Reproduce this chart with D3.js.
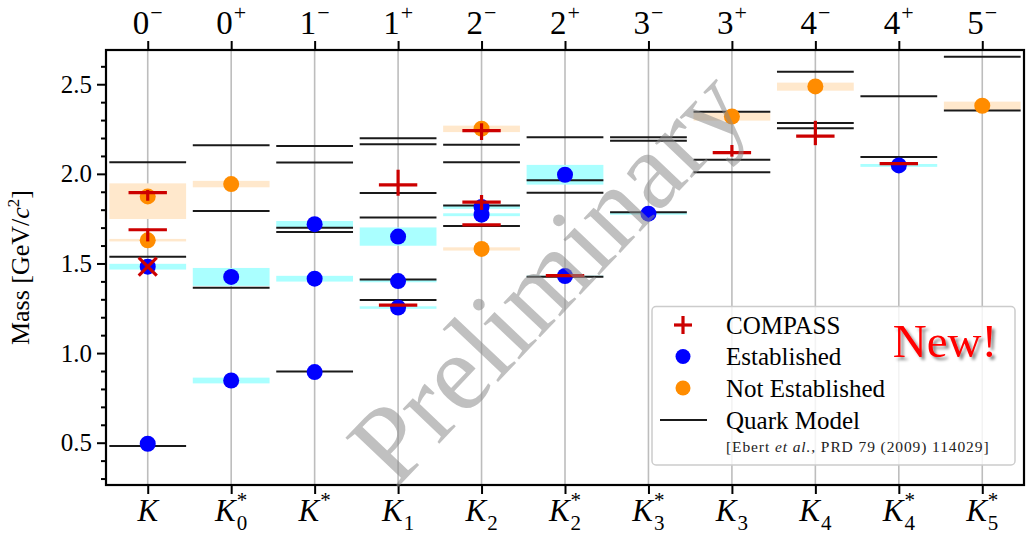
<!DOCTYPE html>
<html>
<head>
<meta charset="utf-8">
<script src="https://cdn.jsdelivr.net/npm/d3@7"></script>
<style>
  html, body { margin: 0; padding: 0; background: #fff; }
  svg { display: block; }
  svg text { font-family: "Liberation Serif", "DejaVu Serif", serif; }
</style>
</head>
<body>
<svg id="chart" width="1028" height="534" font-family="Liberation Serif, DejaVu Serif, serif"></svg>
<script>
// ---- categories (bottom) and J^P labels (top) ----
const catSub  = ["", "0", "", "1", "2", "2", "3", "3", "4", "4", "5"];
const catStar = [false, true, true, false, false, true, true, false, false, true, true];
const spinJ   = ["0", "0", "1", "1", "2", "2", "3", "3", "4", "4", "5"];
const parity  = ["\u2212", "+", "\u2212", "+", "\u2212", "+", "\u2212", "+", "\u2212", "+", "\u2212"];

// ---- y axis ticks ----
const yMajorTicks = [0.5, 1.0, 1.5, 2.0, 2.5];
const yMinorTicks = [0.3, 0.4, 0.6, 0.7, 0.8, 0.9, 1.1, 1.2, 1.3, 1.4, 1.6, 1.7, 1.8, 1.9, 2.1, 2.2, 2.3, 2.4, 2.6];

// ---- quark-model predictions (Ebert et al.), one list per category [GeV] ----
const quarkModel = [
  [0.482, 1.538, 2.065],
  [1.365, 1.793, 2.160],
  [0.897, 1.676, 1.699, 2.063, 2.156],
  [1.296, 1.411, 1.756, 1.893, 2.165, 2.199],
  [1.709, 1.823, 2.065, 2.163],
  [1.426, 1.895, 1.964, 2.204],
  [1.786, 2.184, 2.204],
  [2.009, 2.079, 2.346],
  [2.254, 2.284, 2.570],
  [2.094, 2.433],
  [2.353, 2.654]
];

// ---- established states ----
const estCat  = [0, 0, 1, 1, 2, 2, 2, 3, 3, 3, 4, 4, 5, 5, 6, 9];
const estMass = [0.494, 1.482, 0.847, 1.425, 0.894, 1.415, 1.719, 1.254, 1.402, 1.650, 1.772, 1.815, 1.430, 1.995, 1.778, 2.047];
const estErr  = [0.000, 0.016, 0.016, 0.050, 0.000, 0.016, 0.018, 0.007, 0.007, 0.051, 0.008, 0.010, 0.002, 0.055, 0.006, 0.008];

// ---- not-established states ----
const nestCat     = [0, 0, 1, 4, 4, 7, 8, 10];
const nestMass    = [1.629, 1.874, 1.943, 1.581, 2.252, 2.320, 2.488, 2.380];
const nestErrDown = [0.006, 0.126, 0.018, 0.009, 0.019, 0.023, 0.024, 0.023];
const nestErrUp   = [0.008, 0.073, 0.018, 0.009, 0.017, 0.022, 0.021, 0.023];

// ---- COMPASS results ----
const compCat     = [0, 0, 3, 3, 4, 4, 4, 5, 7, 8, 9];
const compMass    = [1.895, 1.688, 1.268, 1.938, 1.715, 1.842, 2.241, 1.432, 2.118, 2.210, 2.057];
const compErrUp   = [0.015, 0.006, 0.000, 0.085, 0.000, 0.040, 0.041, 0.000, 0.043, 0.086, 0.000];
const compErrDown = [0.045, 0.065, 0.000, 0.060, 0.000, 0.043, 0.052, 0.000, 0.022, 0.050, 0.000];
// COMPASS signal not confirmed
const compXCat  = [0];
const compXMass = [1.482];

// ---- legend ----
const legendLabels = ["COMPASS", "Established", "Not Established", "Quark Model"];

// ---------------------------------------------------------------
const SERIF = "Liberation Serif, DejaVu Serif, serif";
const svg = d3.select("#chart");
const plot = { left: 106, right: 1024, top: 50, bottom: 485 };

const x = d3.scaleLinear().domain([-0.5, 10.5]).range([plot.left, plot.right]);
const y = d3.scaleLinear().domain([0.264, 2.691]).range([plot.bottom, plot.top]);
const step = x(1) - x(0);

const colBlue = "#0000ff", colOrange = "#ff8c00", colRed = "#cc0000";
const bandCyan = "#aaffff", bandOrange = "#ffe8cc";

const defs = svg.append("defs");
defs.append("clipPath").attr("id", "plotclip")
  .append("rect").attr("x", plot.left).attr("y", plot.top)
  .attr("width", plot.right - plot.left).attr("height", plot.bottom - plot.top);
const shadow = defs.append("filter").attr("id", "shadow")
  .attr("x", "-20%").attr("y", "-20%").attr("width", "150%").attr("height", "150%");
shadow.append("feDropShadow").attr("dx", 3).attr("dy", 3).attr("stdDeviation", 1.8)
  .attr("flood-color", "#000").attr("flood-opacity", 0.45);

// vertical grid lines
svg.append("g").selectAll("line").data(d3.range(11)).join("line")
  .attr("x1", d => x(d)).attr("x2", d => x(d))
  .attr("y1", plot.top).attr("y2", plot.bottom)
  .attr("stroke", "#bdbdbd").attr("stroke-width", 1.6);

const g = svg.append("g").attr("clip-path", "url(#plotclip)");
const halfW = 0.46 * step;

// uncertainty bands
g.append("g").selectAll("rect").data(estCat.map((c, i) => i)).join("rect")
  .attr("x", i => x(estCat[i]) - halfW).attr("width", 2 * halfW)
  .attr("y", i => y(estMass[i] + estErr[i]))
  .attr("height", i => Math.max(y(estMass[i] - estErr[i]) - y(estMass[i] + estErr[i]), 1.5))
  .attr("fill", bandCyan).attr("opacity", i => estErr[i] > 0.001 ? 1 : 0);

g.append("g").selectAll("rect").data(nestCat.map((c, i) => i)).join("rect")
  .attr("x", i => x(nestCat[i]) - halfW).attr("width", 2 * halfW)
  .attr("y", i => y(nestMass[i] + nestErrUp[i]))
  .attr("height", i => y(nestMass[i] - nestErrDown[i]) - y(nestMass[i] + nestErrUp[i]))
  .attr("fill", bandOrange);

// quark model lines
const qm = quarkModel.flatMap((arr, c) => arr.map(m => ({ c, m })));
g.append("g").selectAll("line").data(qm).join("line")
  .attr("x1", d => x(d.c) - halfW).attr("x2", d => x(d.c) + halfW)
  .attr("y1", d => y(d.m)).attr("y2", d => y(d.m))
  .attr("stroke", "#1a1a1a").attr("stroke-width", 2);

// established / not-established points
g.append("g").selectAll("circle").data(estCat.map((c, i) => i)).join("circle")
  .attr("cx", i => x(estCat[i])).attr("cy", i => y(estMass[i])).attr("r", 8)
  .attr("fill", colBlue);
g.append("g").selectAll("circle").data(nestCat.map((c, i) => i)).join("circle")
  .attr("cx", i => x(nestCat[i])).attr("cy", i => y(nestMass[i])).attr("r", 8)
  .attr("fill", colOrange);

// COMPASS crosses with vertical error bars
const comp = g.append("g").attr("stroke", colRed).attr("stroke-width", 3.2);
const compIdx = compCat.map((c, i) => i);
const barHalf = 0.23 * step;
comp.selectAll("line.h").data(compIdx).join("line").attr("class", "h")
  .attr("x1", i => x(compCat[i]) - barHalf).attr("x2", i => x(compCat[i]) + barHalf)
  .attr("y1", i => y(compMass[i])).attr("y2", i => y(compMass[i]));
comp.selectAll("line.v").data(compIdx).join("line").attr("class", "v")
  .attr("x1", i => x(compCat[i])).attr("x2", i => x(compCat[i]))
  .attr("y1", i => y(compMass[i] + compErrUp[i])).attr("y2", i => y(compMass[i] - compErrDown[i]));
// X marks
const xs = 9;
compXCat.forEach((c, i) => {
  const px = x(c), py = y(compXMass[i]);
  comp.append("line").attr("x1", px - xs).attr("y1", py - xs).attr("x2", px + xs).attr("y2", py + xs);
  comp.append("line").attr("x1", px - xs).attr("y1", py + xs).attr("x2", px + xs).attr("y2", py - xs);
});

// axes
const yAxis = svg.append("g").attr("transform", `translate(${plot.left},0)`)
  .call(d3.axisLeft(y).tickValues(yMajorTicks).tickSize(9).tickPadding(5).tickFormat(d3.format(".1f")));
const yMinor = svg.append("g").attr("transform", `translate(${plot.left},0)`)
  .call(d3.axisLeft(y).tickValues(yMinorTicks).tickSize(5).tickFormat(""));
const xTop = svg.append("g").attr("transform", `translate(0,${plot.top})`)
  .call(d3.axisTop(x).tickValues(d3.range(11)).tickSize(9).tickFormat(""));
const xBot = svg.append("g").attr("transform", `translate(0,${plot.bottom})`)
  .call(d3.axisBottom(x).tickValues(d3.range(11)).tickSize(9).tickFormat(""));
[yAxis, yMinor, xTop, xBot].forEach(a => {
  a.attr("font-family", SERIF);
  a.select(".domain").remove();
  a.selectAll(".tick line").attr("stroke", "#000").attr("stroke-width", 2);
});
yAxis.selectAll(".tick text").attr("font-size", 25).attr("fill", "#000");

// spines
svg.append("rect").attr("x", plot.left).attr("y", plot.top)
  .attr("width", plot.right - plot.left).attr("height", plot.bottom - plot.top)
  .attr("fill", "none").attr("stroke", "#000").attr("stroke-width", 2.2);

// y label
svg.append("text")
  .attr("transform", `translate(29,${(plot.top + plot.bottom) / 2}) rotate(-90)`)
  .attr("text-anchor", "middle").attr("font-size", 26).attr("font-family", SERIF)
  .call(t => {
    t.append("tspan").text("Mass [GeV/");
    t.append("tspan").attr("font-style", "italic").text("c");
    t.append("tspan").attr("font-size", 17).attr("dy", -10).text("2");
    t.append("tspan").attr("dy", 10).text("]");
  });

// top J^P labels
d3.range(11).forEach(i => {
  const grp = svg.append("g").attr("font-family", SERIF);
  const base = grp.append("text").attr("x", 0).attr("y", 34).attr("font-size", 33).text(spinJ[i]);
  const w = base.node().getComputedTextLength();
  const sup = grp.append("text").attr("x", w + 1).attr("y", 20).attr("font-size", 22).text(parity[i]);
  const ws = sup.node().getComputedTextLength();
  grp.attr("transform", `translate(${x(i) - (w + 1 + ws) / 2},0)`);
});

// bottom state labels
d3.range(11).forEach(i => {
  const grp = svg.append("g").attr("font-family", SERIF);
  const base = grp.append("text").attr("x", 0).attr("y", 521).attr("font-size", 31)
    .attr("font-style", "italic").text("K");
  const w = base.node().getComputedTextLength();
  let extra = 0;
  if (catStar[i]) {
    const s = grp.append("text").attr("x", w + 1).attr("y", 507).attr("font-size", 21).text("*");
    extra = Math.max(extra, s.node().getComputedTextLength() + 1);
  }
  if (catSub[i]) {
    const s = grp.append("text").attr("x", w + 1).attr("y", 530).attr("font-size", 21).text(catSub[i]);
    extra = Math.max(extra, s.node().getComputedTextLength() + 1);
  }
  grp.attr("transform", `translate(${x(i) - (w + extra) / 2},0)`);
});

// watermark
svg.append("text")
  .attr("transform", "translate(556,284) rotate(-46.5)")
  .attr("text-anchor", "middle").attr("dominant-baseline", "middle")
  .attr("font-size", 110).attr("font-family", SERIF)
  .attr("fill", "#8c8c8c").attr("fill-opacity", 0.55)
  .text("Preliminary");

// legend
const lg = svg.append("g").attr("font-family", SERIF);
lg.append("rect").attr("x", 652).attr("y", 306.5).attr("width", 363).attr("height", 158.5)
  .attr("rx", 4).attr("fill", "#fff").attr("fill-opacity", 0.82)
  .attr("stroke", "#cccccc").attr("stroke-width", 1.5);
const rowY = [325, 356.5, 388, 420];
const mx = 683;
lg.append("line").attr("x1", mx - 9).attr("x2", mx + 9).attr("y1", rowY[0]).attr("y2", rowY[0])
  .attr("stroke", colRed).attr("stroke-width", 3.2);
lg.append("line").attr("x1", mx).attr("x2", mx).attr("y1", rowY[0] - 9).attr("y2", rowY[0] + 9)
  .attr("stroke", colRed).attr("stroke-width", 3.2);
lg.append("circle").attr("cx", mx).attr("cy", rowY[1]).attr("r", 7.5).attr("fill", colBlue);
lg.append("circle").attr("cx", mx).attr("cy", rowY[2]).attr("r", 7.5).attr("fill", colOrange);
lg.append("line").attr("x1", 660).attr("x2", 707).attr("y1", rowY[3]).attr("y2", rowY[3])
  .attr("stroke", "#1a1a1a").attr("stroke-width", 2);
legendLabels.forEach((t, i) => {
  lg.append("text").attr("x", 726).attr("y", rowY[i]).attr("dy", "0.34em")
    .attr("font-size", 25).text(t);
});
lg.append("text").attr("x", 726).attr("y", 452).attr("font-size", 15.5).attr("fill", "#222")
  .attr("letter-spacing", 0.9)
  .call(t => {
    t.append("tspan").text("[Ebert ");
    t.append("tspan").attr("font-style", "italic").text("et al.");
    t.append("tspan").text(", PRD 79 (2009) 114029]");
  });

// highlight
svg.append("text").attr("x", 945).attr("y", 357).attr("text-anchor", "middle")
  .attr("font-size", 47).attr("font-family", SERIF).attr("fill", "#ff0000").attr("filter", "url(#shadow)")
  .text("New!");
</script>
</body>
</html>
